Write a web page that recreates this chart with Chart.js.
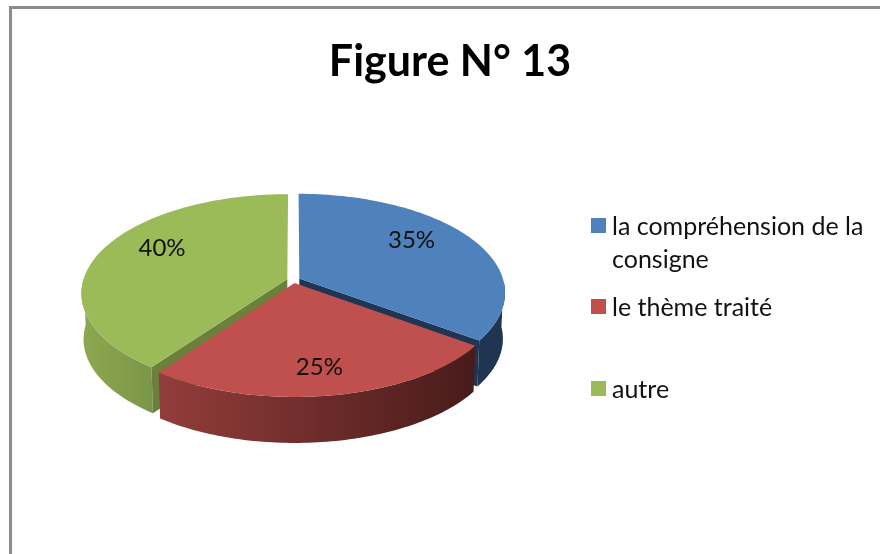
<!DOCTYPE html>
<html lang="fr">
<head>
<meta charset="utf-8">
<title>Figure N° 13</title>
<style>
  body { margin: 0; background: #fff; overflow: hidden; }
  #frame { position: absolute; left: 9px; top: 6px; width: 871px; height: 548px; border-top: 3px solid #8c8c8c; border-left: 3px solid #8c8c8c; }
  #chart { position: absolute; left: 0; top: 0; }
  .key { position: absolute; left: 612px; width: 262px; font: 25px/33px Lato, sans-serif; color: #111; }
  .key i { position: absolute; left: -21px; top: 9px; width: 15px; height: 15px; }
</style>
</head>
<body>
<div id="frame"></div>
<canvas id="chart" width="880" height="554"></canvas>
<div id="legend"></div>
<script src="https://cdn.jsdelivr.net/npm/chart.js@4/dist/chart.umd.js"></script>
<script>
// --- Data ---
const categories = ["la compréhension de la consigne", "le thème traité", "autre"];
const shares = [35, 25, 40];

// --- Colours ---
const topColors = ["#4f81bd", "#c0504d", "#9bbb59"];
const wallLeft = ["#1f3552", "#933d3b", "#8ca850"];
const wallRight = ["#1f3552", "#481b1a", "#7b9648"];
const innerColors = ["#1f3552", "#481b1a", "#6b803b"];

// --- Fake 3D view of the flat pie ---
const view = { cx: 293.5, cy: 280, rx: 204, ry: 97, k: 0.14, depth: 46, shrink: 0.99 };
const labelNudge = [[13, -14], [5, 25], [-18, -14]];
const legendTops = [209, 290, 372];
const explode = 0.032;

function project(u, v, low) {
  const w = 1 - view.k * v;
  let x = view.cx + view.rx * u / w;
  let y = view.cy + view.ry * v / w;
  if (low) {
    x = view.cx + (x - view.cx) * view.shrink;
    y += view.depth;
  }
  return [x, y];
}

function fillPoly(ctx, pts, fill) {
  ctx.beginPath();
  pts.forEach((p, i) => i ? ctx.lineTo(p[0], p[1]) : ctx.moveTo(p[0], p[1]));
  ctx.closePath();
  ctx.fillStyle = fill;
  ctx.fill();
}

function sliceGeometry(arc) {
  const mid = (arc.startAngle + arc.endAngle) / 2;
  const ax = explode * Math.cos(mid), ay = explode * Math.sin(mid);
  const rim = [], front = [];
  const steps = 80;
  for (let i = 0; i <= steps; i++) {
    const a = arc.startAngle + (arc.endAngle - arc.startAngle) * i / steps;
    const p = [ax + Math.cos(a), ay + Math.sin(a)];
    rim.push(p);
    if (Math.sin(a) >= 0) front.push(p);
  }
  return { ax, ay, rim, front };
}

// draws the library's arcs through the view above instead of flat
const pie3d = {
  id: "pie3d",
  beforeDatasetDraw(chart) {
    const ctx = chart.ctx;
    const arcs = chart.getDatasetMeta(0).data;
    ctx.save();
    // back slices first, the red one ends up in front
    [0, 2, 1].forEach(i => {
      const arc = arcs[i];
      const { ax, ay, rim, front } = sliceGeometry(arc);
      const upper = front.map(p => project(p[0], p[1], false));
      const lower = front.map(p => project(p[0], p[1], true)).reverse();
      const xs = upper.map(p => p[0]);
      const grad = ctx.createLinearGradient(Math.min(...xs), 0, Math.max(...xs), 0);
      grad.addColorStop(0, wallLeft[i]);
      grad.addColorStop(1, wallRight[i]);
      fillPoly(ctx, upper.concat(lower), grad);

      // only the cut faces turned towards the viewer
      const a0 = project(ax, ay, false), a1 = project(ax, ay, true);
      const first = rim[0], last = rim[rim.length - 1];
      if (-Math.cos(arc.startAngle) > 0.01)
        fillPoly(ctx, [a0, project(first[0], first[1], false), project(first[0], first[1], true), a1], innerColors[i]);
      if (Math.cos(arc.endAngle) > 0.01)
        fillPoly(ctx, [a0, project(last[0], last[1], false), project(last[0], last[1], true), a1], innerColors[i]);
    });
    [0, 2, 1].forEach(i => {
      const { ax, ay, rim } = sliceGeometry(arcs[i]);
      const pts = [project(ax, ay, false)].concat(rim.map(p => project(p[0], p[1], false)));
      fillPoly(ctx, pts, topColors[i]);
    });
    ctx.restore();
    return false;
  },
  afterDatasetsDraw(chart) {
    const ctx = chart.ctx;
    const arcs = chart.getDatasetMeta(0).data;
    const total = shares.reduce((a, b) => a + b, 0);
    ctx.save();
    ctx.font = "24px Lato, sans-serif";
    ctx.fillStyle = "#111";
    ctx.textAlign = "center";
    ctx.textBaseline = "middle";
    arcs.forEach((arc, i) => {
      const mid = (arc.startAngle + arc.endAngle) / 2;
      const p = project(0.6 * Math.cos(mid), 0.6 * Math.sin(mid), false);
      ctx.fillText(Math.round(shares[i] / total * 100) + "%", p[0] + labelNudge[i][0], p[1] + labelNudge[i][1]);
    });
    ctx.restore();
  }
};

// --- Chart ---
const chart = new Chart(document.getElementById("chart"), {
  type: "pie",
  data: {
    labels: categories,
    datasets: [{ data: shares, backgroundColor: topColors, borderWidth: 0 }]
  },
  options: {
    responsive: false,
    animation: false,
    events: [],
    layout: { padding: { left: 20 } },
    plugins: {
      legend: { display: false },
      tooltip: { enabled: false },
      title: {
        display: true,
        text: "Figure N° 13",
        color: "#000",
        font: { family: "Lato, sans-serif", size: 43, weight: "bold" },
        padding: { top: 36, bottom: 20 }
      }
    }
  },
  plugins: [pie3d]
});

// --- Legend ---
document.getElementById("legend").innerHTML = categories.map((c, i) =>
  `<div class="key" style="top:${legendTops[i]}px"><i style="background:${topColors[i]}"></i>${c}</div>`
).join("");
</script>
</body>
</html>
